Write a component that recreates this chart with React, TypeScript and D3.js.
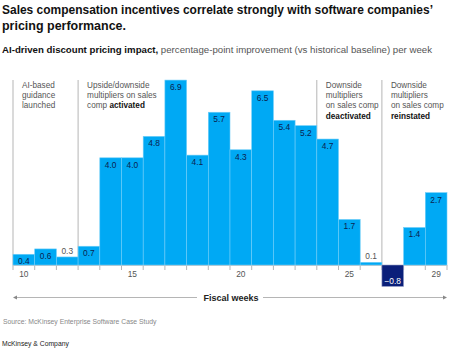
import { useEffect, useRef } from 'react'
import * as d3 from 'd3'

const weeks = [10, 11, 12, 13, 14, 15, 16, 17, 18, 19, 20, 21, 22, 23, 24, 25, 26, 27, 28, 29]
const values = [0.4, 0.6, 0.3, 0.7, 4.0, 4.0, 4.8, 6.9, 4.1, 5.7, 4.3, 6.5, 5.4, 5.2, 4.7, 1.7, 0.1, -0.8, 1.4, 2.7]
const tickWeeks = [10, 15, 20, 25, 29]

const annotations = [
  { week: 10, lines: ['AI-based', 'guidance', 'launched'], bold: '' },
  { week: 13, lines: ['Upside/downside', 'multipliers on sales', 'comp '], bold: 'activated' },
  { week: 24, lines: ['Downside', 'multipliers', 'on sales comp', ''], bold: 'deactivated' },
  { week: 27, lines: ['Downside', 'multipliers', 'on sales comp', ''], bold: 'reinstated' },
]

const W = 464
const H = 354
const FONT = "'Liberation Sans', Arial, Helvetica, sans-serif"

export default function App() {
  const svgRef = useRef<SVGSVGElement>(null)

  useEffect(() => {
    if (!svgRef.current) return
    const svg = d3.select(svgRef.current)
    svg.selectAll('*').remove()

    const left = 13
    const right = 447
    const baseY = 265

    const x = d3.scaleBand<number>().domain(weeks).range([left, right]).padding(0)
    const y = d3.scaleLinear().domain([0, 7]).range([baseY, baseY - 7 * 26.8])

    // Titles
    svg.append('text')
      .attr('x', 2).attr('y', 14)
      .attr('font-size', 13).attr('font-weight', 700).attr('fill', '#111')
      .attr('textLength', 431).attr('lengthAdjust', 'spacingAndGlyphs')
      .text('Sales compensation incentives correlate strongly with software companies\u2019')
    svg.append('text')
      .attr('x', 2).attr('y', 29.5)
      .attr('font-size', 13).attr('font-weight', 700).attr('fill', '#111')
      .attr('textLength', 124).attr('lengthAdjust', 'spacingAndGlyphs')
      .text('pricing performance.')

    const sub = svg.append('text')
      .attr('x', 2).attr('y', 52.5)
      .attr('font-size', 9.2)
      .attr('textLength', 430).attr('lengthAdjust', 'spacingAndGlyphs')
    sub.append('tspan').attr('font-weight', 700).attr('fill', '#111').text('AI-driven discount pricing impact,')
    sub.append('tspan').attr('fill', '#555').text(' percentage-point improvement (vs historical baseline) per week')

    // Annotation lines + text
    annotations.forEach(a => {
      const ax = x(a.week)!
      svg.append('line')
        .attr('x1', ax).attr('x2', ax)
        .attr('y1', 80).attr('y2', baseY)
        .attr('stroke', '#b5b5b5').attr('stroke-width', 1)
      const t = svg.append('text')
        .attr('font-size', 8.2).attr('fill', '#555')
      a.lines.forEach((ln, i) => {
        const ts = t.append('tspan').attr('x', ax + 9).attr('y', 87.5 + i * 10.4).text(ln)
        if (i === a.lines.length - 1 && a.bold) {
          ts.append('tspan').attr('font-weight', 700).attr('fill', '#111').text(a.bold)
        }
      })
    })

    // Tick marks at bar edges
    const edges = [...weeks.map(w => x(w)!), right]
    svg.append('g').selectAll('line').data(edges).join('line')
      .attr('x1', d => d).attr('x2', d => d)
      .attr('y1', baseY).attr('y2', baseY + 5)
      .attr('stroke', '#b5b5b5').attr('stroke-width', 1)

    svg.append('line')
      .attr('x1', left).attr('x2', right)
      .attr('y1', baseY + 0.5).attr('y2', baseY + 0.5)
      .attr('stroke', '#c8c8c8').attr('stroke-width', 1)

    // Bars
    svg.append('g').selectAll('rect').data(values).join('rect')
      .attr('x', (d, i) => x(weeks[i])!)
      .attr('width', x.bandwidth())
      .attr('y', d => y(Math.max(0, d)))
      .attr('height', d => Math.abs(y(d) - y(0)))
      .attr('fill', d => (d < 0 ? '#0a1f7a' : '#00a9f4'))
      .attr('stroke', d => (d < 0 ? '#9aa3c8' : '#6fcdf8'))
      .attr('stroke-width', 0.6)

    // Value labels
    svg.append('g').selectAll('text').data(values).join('text')
      .attr('x', (d, i) => x(weeks[i])! + x.bandwidth() / 2)
      .attr('y', d => (d < 0 ? y(d) - 2.5 : d < 0.35 ? y(d) - 3 : y(d) + 10))
      .attr('text-anchor', 'middle')
      .attr('font-size', 8.4)
      .attr('fill', d => (d < 0 ? '#fff' : d < 0.35 ? '#555' : '#0b2350'))
      .text(d => (d < 0 ? '\u2212' + Math.abs(d).toFixed(1) : d.toFixed(1)))

    // Week labels
    svg.append('g').selectAll('text').data(tickWeeks).join('text')
      .attr('x', d => x(d)! + x.bandwidth() / 2)
      .attr('y', baseY + 12)
      .attr('text-anchor', 'middle')
      .attr('font-size', 8.4).attr('fill', '#555')
      .text(d => String(d))

    // Fiscal weeks axis arrow
    const ay = 297.5
    svg.append('line').attr('x1', left + 2).attr('x2', 197).attr('y1', ay).attr('y2', ay)
      .attr('stroke', '#b5b5b5').attr('stroke-width', 1)
    svg.append('line').attr('x1', 263).attr('x2', right - 2).attr('y1', ay).attr('y2', ay)
      .attr('stroke', '#b5b5b5').attr('stroke-width', 1)
    svg.append('path').attr('d', `M${left},${ay}l4,-2v4z`).attr('fill', '#888')
    svg.append('path').attr('d', `M${right},${ay}l-4,-2v4z`).attr('fill', '#888')
    svg.append('text')
      .attr('x', 231).attr('y', ay + 3.2)
      .attr('text-anchor', 'middle')
      .attr('font-size', 9).attr('font-weight', 700).attr('fill', '#222')
      .text('Fiscal weeks')

    // Footer
    svg.append('text').attr('x', 3).attr('y', 323.5)
      .attr('font-size', 6.8).attr('fill', '#888')
      .text('Source: McKinsey Enterprise Software Case Study')
    svg.append('text').attr('x', 2).attr('y', 346)
      .attr('font-size', 6.8).attr('fill', '#222')
      .text('McKinsey & Company')
  }, [])

  return (
    <svg
      ref={svgRef}
      width={W}
      height={H}
      style={{ position: 'absolute', left: 0, top: 0, fontFamily: FONT, background: '#fff' }}
    />
  )
}
